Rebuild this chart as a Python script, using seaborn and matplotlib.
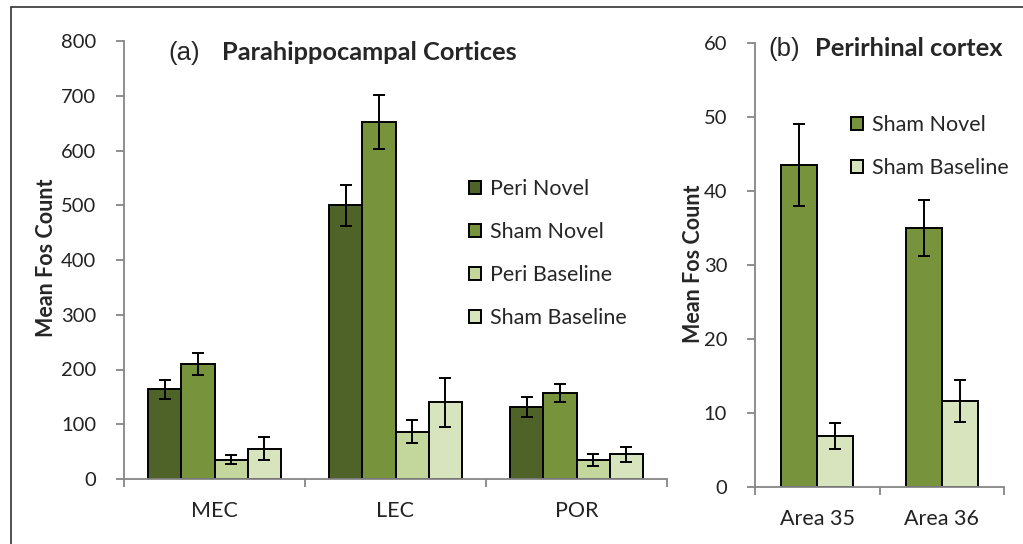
import matplotlib
matplotlib.use("Agg")
import matplotlib.pyplot as plt
import pandas as pd
import seaborn as sns
from matplotlib.patches import Rectangle

# panel (a) data
regions_a = ["MEC", "LEC", "POR"]
groups_a = ["Peri Novel", "Sham Novel", "Peri Baseline", "Sham Baseline"]
means_a = {
    "Peri Novel": [164, 500, 131],
    "Sham Novel": [210, 652, 157],
    "Peri Baseline": [35, 86, 34],
    "Sham Baseline": [55, 140, 45],
}
errs_a = {
    "Peri Novel": [17, 37, 18],
    "Sham Novel": [20, 50, 17],
    "Peri Baseline": [8, 21, 11],
    "Sham Baseline": [21, 45, 14],
}

# panel (b) data
regions_b = ["Area 35", "Area 36"]
groups_b = ["Sham Novel", "Sham Baseline"]
means_b = {"Sham Novel": [43.5, 35.0], "Sham Baseline": [6.9, 11.6]}
errs_b = {"Sham Novel": [5.5, 3.8], "Sham Baseline": [1.8, 2.8]}

colors = {
    "Peri Novel": "#4F6228",
    "Sham Novel": "#77933C",
    "Peri Baseline": "#C3D69B",
    "Sham Baseline": "#D7E4BD",
}

sns.set_style("white")
plt.rcParams["font.family"] = ["Lato", "DejaVu Sans"]
SPINE = "#868686"


def long_table(regions, groups, means):
    rows = []
    for g in groups:
        for r, v in zip(regions, means[g]):
            rows.append({"region": r, "group": g, "mean": v})
    return pd.DataFrame(rows)


def draw_panel(ax, regions, groups, means, errs, width, ymax, ystep):
    df = long_table(regions, groups, means)
    sns.barplot(data=df, x="region", y="mean", hue="group", order=regions,
                hue_order=groups, palette=[colors[g] for g in groups],
                width=width, gap=0, errorbar=None, edgecolor="black",
                linewidth=1.4, saturation=1, ax=ax)
    for cont, g in zip(ax.containers, groups):
        xs = [b.get_x() + b.get_width() / 2 for b in cont]
        ax.errorbar(xs, means[g], yerr=errs[g], fmt="none", ecolor="black",
                    elinewidth=1.4, capsize=4.5, capthick=1.4, zorder=5)
    ax.set_ylim(0, ymax)
    ax.set_yticks(range(0, ymax + 1, ystep))
    ax.set_xlim(-0.5, len(regions) - 0.5)
    ax.set_xlabel("")
    ax.set_ylabel("")
    for s in ["top", "right"]:
        ax.spines[s].set_visible(False)
    for s in ["left", "bottom"]:
        ax.spines[s].set_color(SPINE)
        ax.spines[s].set_linewidth(1.3)
    ax.tick_params(axis="y", left=True, length=6, width=1.3, color=SPINE,
                   labelsize=14.5, pad=14, labelcolor="#222222")
    ax.set_xticks([x + 0.5 for x in range(-1, len(regions))], minor=True)
    ax.tick_params(axis="x", which="minor", bottom=True, length=6, width=1.3,
                   color=SPINE)
    ax.tick_params(axis="x", which="major", bottom=False, labelsize=15.5,
                   pad=12, labelcolor="#222222")
    ax.get_legend().remove()


fig = plt.figure(figsize=(10.23, 5.44), dpi=100)
ax1 = fig.add_axes([124 / 1023, 1 - 479 / 544, 543 / 1023, 438 / 544])
ax2 = fig.add_axes([755 / 1023, 1 - 487 / 544, 249 / 1023, 444 / 544])

draw_panel(ax1, regions_a, groups_a, means_a, errs_a, 0.73, 800, 100)
draw_panel(ax2, regions_b, groups_b, means_b, errs_b, 0.58, 60, 10)

leg_kw = dict(bbox_transform=fig.transFigure, frameon=False, fontsize=15.5,
              handlelength=0.58, handleheight=0.58, handletextpad=0.4,
              labelspacing=1.07, borderpad=0, borderaxespad=0)
h1, l1 = ax1.get_legend_handles_labels()
ax1.legend(h1, l1, loc="upper left", bbox_to_anchor=(469 / 1023, 1 - 179 / 544),
           **leg_kw)
h2, l2 = ax2.get_legend_handles_labels()
ax2.legend(h2, l2, loc="upper left", bbox_to_anchor=(851 / 1023, 1 - 115 / 544),
           **leg_kw)

fig.text(47 / 1023, 1 - 258 / 544, "Mean Fos Count", rotation=90, ha="center",
         va="center", fontsize=15.5, fontweight="bold")
fig.text(693 / 1023, 1 - 264 / 544, "Mean Fos Count", rotation=90, ha="center",
         va="center", fontsize=15.5, fontweight="bold")

fig.text(168 / 1023, 1 - 53 / 544, "(a)", ha="left", va="center", fontsize=18.5,
         family="Liberation Sans")
fig.text(222 / 1023, 1 - 53 / 544, "Parahippocampal Cortices", ha="left",
         va="center", fontsize=18.3, fontweight="bold")
fig.text(768 / 1023, 1 - 49 / 544, "(b)", ha="left", va="center", fontsize=18.5,
         family="Liberation Sans")
fig.text(815 / 1023, 1 - 48 / 544, "Perirhinal cortex", ha="left", va="center",
         fontsize=18.3, fontweight="bold")

fig.add_artist(Rectangle((11 / 1023, -0.1), 1.2, 1.1 - 7 / 544,
                         transform=fig.transFigure, fill=False,
                         edgecolor="#333333", linewidth=1.2))

fig.savefig("out.png", dpi=100)
